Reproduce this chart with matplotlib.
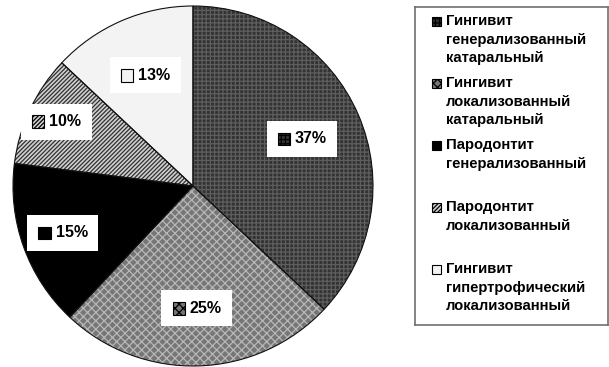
import matplotlib
matplotlib.use("Agg")
import matplotlib.pyplot as plt
import numpy as np
from matplotlib.patches import Rectangle
from matplotlib.offsetbox import AnnotationBbox, DrawingArea, HPacker, TextArea

plt.rcParams["font.family"] = ["Liberation Sans", "DejaVu Sans"]
plt.rcParams["hatch.linewidth"] = 0.9

# данные
shares = [37, 25, 15, 10, 13]
legend_labels = [
    "Гингивит\nгенерализованный\nкатаральный",
    "Гингивит\nлокализованный\nкатаральный",
    "Пародонтит\nгенерализованный",
    "Пародонтит\nлокализованный",
    "Гингивит\nгипертрофический\nлокализованный",
]

# стиль секторов (цвет, штриховка, цвет штриховки)
faces = ["#333333", "#767676", "#000000", "#d0d0d0", "#f3f3f3"]
hatches = ["++++", "xxxx", None, "////////", None]
hatch_cols = ["#5e5e5e", "#b8b8b8", "#000000", "#303030", "#f3f3f3"]
label_dist = [0.66, 0.68, 0.77, 0.84, 0.67]

W, H = 609, 367
fig = plt.figure(figsize=(W / 100, H / 100), dpi=100)

cx, cy, R = 193, 367 - 186, 180
ax = fig.add_axes([(cx - R) / W, (cy - R) / H, 2 * R / W, 2 * R / H])

wedges, _ = ax.pie(shares, startangle=90, counterclock=False, radius=1,
                   colors=faces, wedgeprops=dict(linewidth=0))
for w, h, hc in zip(wedges, hatches, hatch_cols):
    w.set_edgecolor(hc)
    if h:
        w.set_hatch(h)
# контуры
ax.pie(shares, startangle=90, counterclock=False, radius=1,
       colors=["none"] * len(shares),
       wedgeprops=dict(linewidth=0.8, edgecolor="#111111"))
ax.set_xlim(-1, 1)
ax.set_ylim(-1, 1)
ax.set_aspect("equal")
ax.axis("off")


def marker(i, size=10):
    da = DrawingArea(size, size, 0, 0)
    r = Rectangle((0.5, 0.5), size - 1, size - 1, facecolor=faces[i],
                  edgecolor="#000000", linewidth=0.8, hatch=hatches[i])
    da.add_artist(r)
    return da


# подписи процентов
for i, w in enumerate(wedges):
    ang = np.deg2rad((w.theta1 + w.theta2) / 2)
    x = label_dist[i] * np.cos(ang)
    y = label_dist[i] * np.sin(ang)
    txt = TextArea(f"{shares[i]}%", textprops=dict(fontsize=11.5, fontweight="bold"))
    box = HPacker(children=[marker(i), txt], align="center", pad=0, sep=3)
    ab = AnnotationBbox(box, (x, y), frameon=True, pad=0.75,
                        bboxprops=dict(facecolor="white", edgecolor="none"))
    ax.add_artist(ab)

# легенда
lax = fig.add_axes([415 / W, (H - 325) / H, 193 / W, 318 / H])
lax.set_xlim(0, 193)
lax.set_ylim(318, 0)
lax.set_xticks([])
lax.set_yticks([])
for s in lax.spines.values():
    s.set_color("#707070")
    s.set_linewidth(1.2)

for i, lab in enumerate(legend_labels):
    top = 7 + 62 * i
    lax.add_patch(Rectangle((17, top + 3), 9, 9, facecolor=faces[i],
                            edgecolor="#000000", linewidth=0.8, hatch=hatches[i]))
    lax.text(31, top, lab, fontsize=10.7, fontweight="bold", va="top", ha="left",
             linespacing=1.42)

fig.savefig("out.png", dpi=100)
